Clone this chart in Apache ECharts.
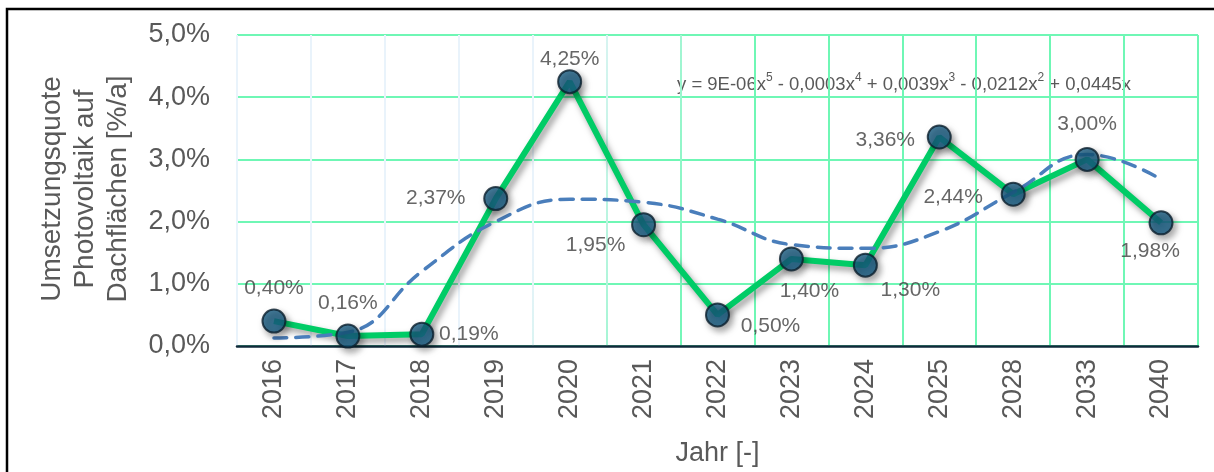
<!DOCTYPE html>
<html>
<head>
<meta charset="utf-8">
<script src="https://cdn.jsdelivr.net/npm/echarts@6/dist/echarts.min.js"></script>
<style>
  html, body { margin: 0; padding: 0; background: #fff; }
  #chart { width: 1214px; height: 472px; }
</style>
</head>
<body>
<div id="chart"></div>
<script>
// Years on the category axis
const years = ['2016', '2017', '2018', '2019', '2020', '2021', '2022', '2023', '2024', '2025', '2028', '2033', '2040'];
// Implementation rate of rooftop PV, in % per year
const quote = [0.40, 0.16, 0.19, 2.37, 4.25, 1.95, 0.50, 1.40, 1.30, 3.36, 2.44, 3.00, 1.98];
// Polynomial trend curve, read at each year
const trend = [0.13, 0.22, 1.20, 2.00, 2.36, 2.31, 2.04, 1.63, 1.57, 1.84, 2.47, 3.08, 2.68];
// Value-axis ticks
const yTicks = [0, 1, 2, 3, 4, 5];

// Where each value label sits relative to its marker (centre offset in px)
const labelOffsets = [
  [0, -33], [0, -33], [47, 0], [-60, 0], [0, -22], [-48, 20], [53, 11],
  [18, 32], [45, 25], [-54, 3], [-60, 3], [0, -35], [-11, 28]
];

const FONT = '"Liberation Sans", Arial, sans-serif';
const MINT = '#6ff7b5';
const fmtPct = v => v.toFixed(2).replace('.', ',') + '%';

const chart = echarts.init(document.getElementById('chart'));

const markerData = quote.map((v, i) => ({
  value: v,
  label: { offset: labelOffsets[i] }
}));

chart.setOption({
  animation: false,
  backgroundColor: '#ffffff',
  grid: { left: 237, right: 16, top: 35, bottom: 124, containLabel: false },
  xAxis: {
    type: 'category',
    data: years,
    boundaryGap: true,
    name: 'Jahr [-]',
    nameLocation: 'middle',
    nameGap: 94,
    nameTextStyle: { fontFamily: FONT, fontSize: 27, color: '#595959' },
    axisLine: { show: true, lineStyle: { color: '#0f2a3a', width: 2.5 } },
    axisTick: { show: false },
    axisLabel: { rotate: 90, margin: 13, fontFamily: FONT, fontSize: 27, color: '#595959', interval: 0 },
    splitLine: {
      show: true,
      interval: 0,
      lineStyle: {
        width: 2,
        color: new echarts.graphic.LinearGradient(300, 40, 1000, 200, [
          { offset: 0, color: '#e9f3fb' },
          { offset: 0.38, color: '#e9f3fb' },
          { offset: 0.62, color: MINT },
          { offset: 1, color: MINT }
        ], true)
      }
    }
  },
  yAxis: {
    type: 'value',
    min: yTicks[0],
    max: yTicks[yTicks.length - 1],
    interval: 1,
    axisLine: { show: false },
    axisTick: { show: false },
    axisLabel: {
      margin: 27,
      fontFamily: FONT,
      fontSize: 27,
      color: '#595959',
      formatter: v => v.toFixed(1).replace('.', ',') + '%'
    },
    splitLine: { show: true, lineStyle: { color: MINT, width: 2 } }
  },
  series: [
    {
      // connecting line of the yearly values
      type: 'line',
      data: quote,
      z: 2,
      symbol: 'none',
      lineStyle: {
        color: '#00cc66',
        width: 6,
        shadowColor: 'rgba(0,0,0,0.4)',
        shadowBlur: 6,
        shadowOffsetX: 3,
        shadowOffsetY: 4
      },
      silent: true
    },
    {
      // 5th-order polynomial trend
      type: 'line',
      data: trend,
      z: 3,
      smooth: 0.45,
      symbol: 'none',
      lineStyle: { color: '#4a7ebb', width: 3.5, type: [13, 9], cap: 'round' },
      silent: true
    },
    {
      // markers with value labels
      type: 'scatter',
      data: markerData,
      z: 4,
      symbol: 'circle',
      symbolSize: 23,
      itemStyle: {
        color: '#165d83',
        borderColor: '#0b1f2d',
        borderWidth: 2,
        shadowColor: 'rgba(0,0,0,0.4)',
        shadowBlur: 6,
        shadowOffsetX: 3,
        shadowOffsetY: 4
      },
      label: {
        show: true,
        position: 'inside',
        fontFamily: FONT,
        fontSize: 21,
        color: '#404040',
        formatter: p => fmtPct(p.value)
      },
      silent: true
    }
  ],
  graphic: [
    {
      // outer frame
      type: 'rect',
      z: 0,
      silent: true,
      shape: { x: 7, y: 9, width: 1260, height: 520 },
      style: { fill: 'none', stroke: '#000000', lineWidth: 2.5 }
    },
    {
      // value-axis title
      type: 'text',
      x: 85,
      y: 189,
      rotation: Math.PI / 2,
      silent: true,
      style: {
        text: 'Umsetzungsquote\nPhotovoltaik auf\nDachflächen [%/a]',
        font: '28px ' + FONT,
        lineHeight: 33,
        fill: '#595959',
        align: 'center',
        verticalAlign: 'middle'
      }
    },
    {
      // trend equation
      type: 'text',
      x: 677,
      y: 83,
      silent: true,
      style: {
        text: '{n|y = 9E-06x}{s|5}{n| - 0,0003x}{s|4}{n| + 0,0039x}{s|3}{n| - 0,0212x}{s|2}{n| + 0,0445x}',
        fill: '#595959',
        align: 'left',
        verticalAlign: 'middle',
        rich: {
          n: { fontFamily: FONT, fontSize: 18.5, fill: '#595959', lineHeight: 22, verticalAlign: 'bottom' },
          s: { fontFamily: FONT, fontSize: 12, fill: '#595959', lineHeight: 22, verticalAlign: 'top' }
        }
      }
    }
  ]
});
</script>
</body>
</html>
